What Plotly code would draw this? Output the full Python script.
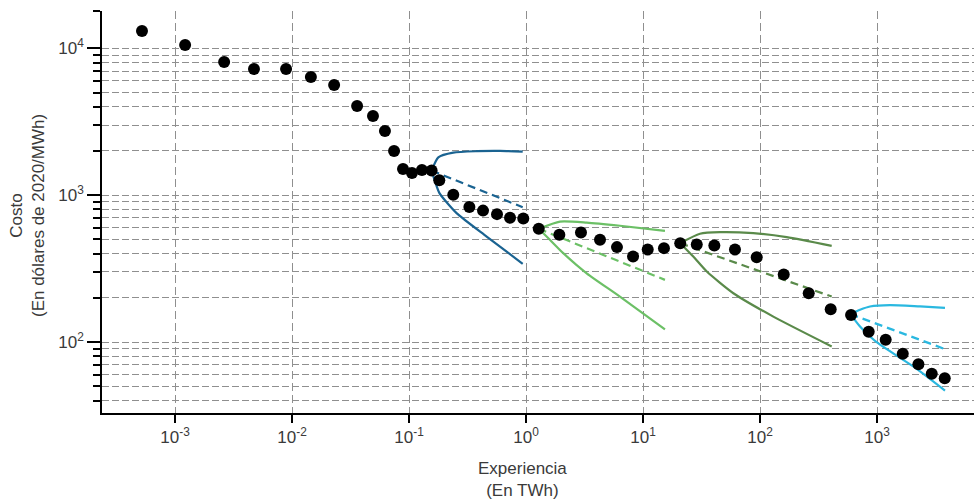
import plotly.graph_objects as go

# ---------------- data ----------------
exp_twh = [5.22e-4, 1.22e-3, 2.63e-3, 4.73e-3, 8.9e-3, 0.0145, 0.0229, 0.036, 0.0492, 0.0623,
           0.0745, 0.0889, 0.106, 0.129, 0.156, 0.1815, 0.239, 0.328, 0.429, 0.565,
           0.730, 0.948, 1.285, 1.928, 2.95, 4.29, 5.99, 8.22, 10.97, 15.1,
           20.8, 28.8, 40.7, 61.1, 93.7, 159.5, 260.8, 402, 600, 849,
           1186, 1660, 2259, 2937, 3793]
cost = [13100, 10530, 8060, 7220, 7220, 6380, 5630, 4050, 3460, 2740,
        2000, 1508, 1416, 1486, 1470, 1265, 1005, 832, 785, 743,
        701, 694, 590, 537, 557, 497, 443, 382, 426, 436,
        471, 461, 454, 426, 378, 288, 215, 167.5, 152.7, 117.5,
        103.7, 83.3, 70.5, 60.9, 56.6]

# fan 1 (dark blue)
f1_x = [0.156, 0.178, 0.239, 0.379, 0.600, 0.937]
f1_up = [1470, 1811, 1950, 1992, 2000, 1980]
f1_lo_x = [0.156, 0.167, 0.182, 0.255, 0.461, 0.937]
f1_lo = [1470, 1239, 1033, 755, 523, 341]
f1_mid_x = [0.156, 0.937]
f1_mid = [1470, 828]

# fan 2 (light green)
f2_x = [1.285, 1.954, 3.30, 6.35, 15.4]
f2_up = [590, 661, 651, 619, 571]
f2_lo_x = [1.285, 1.60, 2.08, 3.30, 6.35, 15.4]
f2_lo = [590, 497, 403, 294, 204, 122]
f2_mid_x = [1.285, 15.4]
f2_mid = [590, 265]

# fan 3 (dark green)
f3_x = [20.8, 30.7, 45.5, 87.7, 169, 410]
f3_up = [471, 546, 560, 551, 518, 452]
f3_lo_x = [20.8, 26.9, 35.1, 59.2, 130, 410]
f3_lo = [471, 382, 302, 215, 149, 93.3]
f3_mid_x = [20.8, 410]
f3_mid = [471, 204]

# fan 4 (cyan)
f4_x = [592, 716, 871, 1291, 2333, 3811]
f4_up = [154.9, 166, 174.7, 178.6, 174.7, 171]
f4_lo_x = [592, 716, 871, 1062, 2042, 3811]
f4_lo = [155, 127.6, 109.2, 95.9, 68.2, 46.7]
f4_mid_x = [592, 3811]
f4_mid = [155, 89.6]

x_major = [1e-3, 1e-2, 1e-1, 1, 10, 100, 1000]
x_labels = ["10<sup>-3</sup>", "10<sup>-2</sup>", "10<sup>-1</sup>", "10<sup>0</sup>",
            "10<sup>1</sup>", "10<sup>2</sup>", "10<sup>3</sup>"]
y_major = [100, 1000, 10000]
y_labels = ["10<sup>2</sup>", "10<sup>3</sup>", "10<sup>4</sup>"]

X_RANGE = [-3.624, 3.829]
Y_RANGE = [1.517, 4.254]
y_minor = [40, 50, 60, 70, 80, 90, 200, 300, 400, 500, 600, 700, 800, 900,
           2000, 3000, 4000, 5000, 6000, 7000, 8000, 9000, 10 ** Y_RANGE[1]]

FONT = "Liberation Sans Narrow, Liberation Sans, Arial, sans-serif"
TXT = "#3a3a3a"
GRID = "#8f8f8f"

fig = go.Figure()

fans = [
    ("#1a6391", f1_x, f1_up, f1_lo_x, f1_lo, f1_mid_x, f1_mid),
    ("#6cc066", f2_x, f2_up, f2_lo_x, f2_lo, f2_mid_x, f2_mid),
    ("#5a8a4a", f3_x, f3_up, f3_lo_x, f3_lo, f3_mid_x, f3_mid),
    ("#2ab8e0", f4_x, f4_up, f4_lo_x, f4_lo, f4_mid_x, f4_mid),
]
for col, ux, uy, lx, ly, mx, my in fans:
    fig.add_trace(go.Scatter(x=ux, y=uy, mode="lines", line=dict(color=col, width=2.2, shape="spline", smoothing=0.6),
                             showlegend=False, hoverinfo="skip"))
    fig.add_trace(go.Scatter(x=lx, y=ly, mode="lines", line=dict(color=col, width=2.2, shape="spline", smoothing=0.6),
                             showlegend=False, hoverinfo="skip"))
    fig.add_trace(go.Scatter(x=mx, y=my, mode="lines", line=dict(color=col, width=2.2, dash="8px,5px"),
                             showlegend=False, hoverinfo="skip"))

fig.add_trace(go.Scatter(x=exp_twh, y=cost, mode="markers",
                         marker=dict(color="black", size=12, line=dict(width=0)),
                         showlegend=False))

fig.update_layout(
    width=976, height=504,
    margin=dict(l=102, r=2, t=11, b=91),
    paper_bgcolor="white", plot_bgcolor="white",
    font=dict(family=FONT, size=17, color=TXT),
    xaxis=dict(type="log", range=X_RANGE, tickmode="array", tickvals=x_major, ticktext=x_labels,
               showline=True, linecolor="black", linewidth=1.5,
               ticks="outside", ticklen=8, tickwidth=2, tickcolor="black",
               showgrid=True, gridcolor=GRID, gridwidth=1, griddash="8px,4px",
               zeroline=False, tickfont=dict(size=17, color=TXT)),
    yaxis=dict(type="log", range=Y_RANGE, tickmode="array", tickvals=y_major, ticktext=y_labels,
               showline=True, linecolor="black", linewidth=1.5,
               ticks="outside", ticklen=13, tickwidth=2, tickcolor="black",
               showgrid=True, gridcolor=GRID, gridwidth=1, griddash="7px,3px",
               zeroline=False, tickfont=dict(size=17, color=TXT),
               minor=dict(tickmode="array", tickvals=y_minor, ticks="outside", ticklen=7,
                          tickwidth=2, tickcolor="black", showgrid=True, gridcolor=GRID,
                          gridwidth=1, griddash="7px,3px")),
    annotations=[
        dict(text="Experiencia<br>(En TWh)", xref="paper", yref="paper", x=0.4817, y=0,
             xanchor="center", yanchor="top", yshift=-44, showarrow=False,
             font=dict(size=17, color=TXT)),
        dict(text="Costo<br>(En dólares de 2020/MWh)", xref="paper", yref="paper", x=0, y=0.49,
             xanchor="center", yanchor="middle", xshift=-75, textangle=-90, showarrow=False,
             font=dict(size=17, color=TXT)),
    ],
)

fig.write_html("out.html", config={"displayModeBar": False},
               post_script="document.body.style.margin='0';")
